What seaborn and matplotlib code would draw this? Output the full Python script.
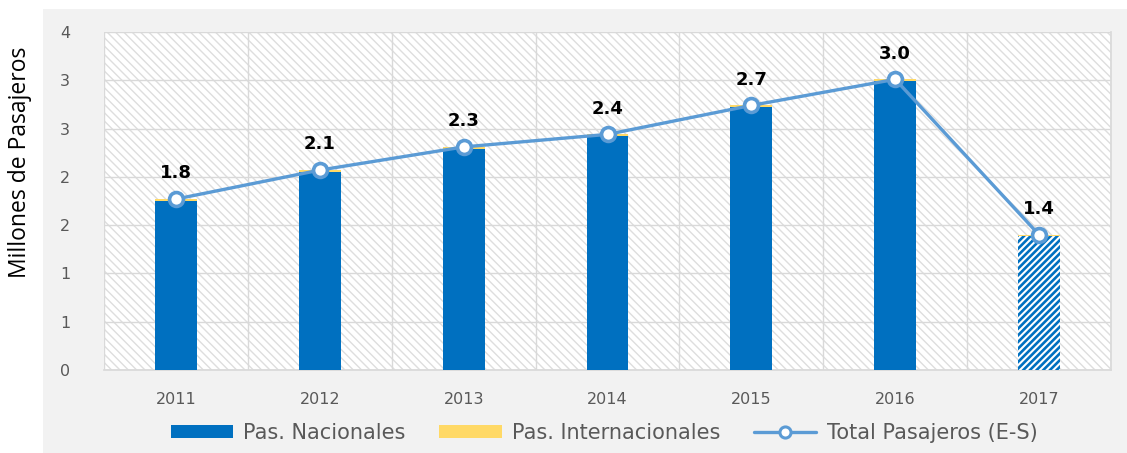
import matplotlib
matplotlib.use("Agg")
import matplotlib.pyplot as plt
import seaborn as sns
import numpy as np
import pandas as pd
from matplotlib.patches import Rectangle, Patch
from matplotlib.lines import Line2D

years = ["2011", "2012", "2013", "2014", "2015", "2016", "2017"]
nacionales = [1.75, 2.05, 2.29, 2.42, 2.72, 2.99, 1.39]
internacionales = [0.02, 0.02, 0.02, 0.02, 0.02, 0.02, 0.01]
total = [1.77, 2.07, 2.31, 2.44, 2.74, 3.01, 1.40]
total_labels = ["1.8", "2.1", "2.3", "2.4", "2.7", "3.0", "1.4"]
y_ticks = [0, 0.5, 1.0, 1.5, 2.0, 2.5, 3.0, 3.5]
y_tick_labels = ["0", "1", "1", "2", "2", "3", "3", "4"]

sns.set_theme(style="white")
plt.rcParams["font.family"] = ["DejaVu Sans"]
plt.rcParams["hatch.linewidth"] = 1.0

BLUE = "#0070C0"
YELLOW = "#FFD966"
LINE = "#5B9BD5"
GRID = "#D9D9D9"
TXT = "#595959"
PANEL = "#F2F2F2"

fig = plt.figure(figsize=(11.27, 4.53), dpi=100, facecolor="white")
fig.patches.append(Rectangle((43 / 1127, 0), 1 - 43 / 1127, 1 - 9 / 453,
                             transform=fig.transFigure, facecolor=PANEL,
                             edgecolor="none", zorder=-10))

ax = fig.add_axes([104 / 1127, 1 - 370 / 453, (1111 - 104) / 1127, (370 - 32) / 453])
ax.set_facecolor("none")
ax.add_patch(Rectangle((0, 0), 1, 1, transform=ax.transAxes, facecolor="white",
                       edgecolor="#DEDEDE", hatch="\\\\\\\\", linewidth=0, zorder=0))

df = pd.DataFrame({"year": years, "nac": nacionales, "intl": internacionales, "total": total})
x = np.arange(len(years))

plt.rcParams["hatch.linewidth"] = 1.9
sns.barplot(data=df, x="year", y="nac", color=BLUE, width=0.29, ax=ax,
            saturation=1, zorder=3, linewidth=0)
ax.bar(x, df["intl"], bottom=df["nac"], width=0.29, color=YELLOW, zorder=3, linewidth=0)

bar_patches = [p for p in ax.patches
               if isinstance(p, Rectangle) and tuple(p.get_facecolor()[:3]) == matplotlib.colors.to_rgb(BLUE)]
lp = bar_patches[-1]
lp.set_facecolor("white")
lp.set_edgecolor(BLUE)
lp.set_hatch("/////")
lp.set_linewidth(0)
if hasattr(lp, "set_hatch_linewidth"):
    lp.set_hatch_linewidth(1.9)

sns.lineplot(x=x, y=df["total"], ax=ax, color=LINE, linewidth=2.4, marker="o",
             markersize=10, markerfacecolor="white", markeredgecolor=LINE,
             markeredgewidth=2.6, zorder=5)

for xi, yi, lab in zip(x, total, total_labels):
    ax.annotate(lab, (xi, yi), xytext=(0, 12), textcoords="offset points",
                ha="center", va="bottom", fontsize=13, fontweight="bold", color="black")

ax.set_xlim(-0.5, 6.5)
ax.set_ylim(0, 3.5)
ax.set_yticks(y_ticks)
ax.set_yticklabels(y_tick_labels)
ax.set_xticks(x)
ax.set_xticklabels(years)
ax.set_xticks(np.arange(-0.5, 7, 1), minor=True)
ax.tick_params(axis="x", which="major", length=0, pad=16, labelsize=11.5, labelcolor=TXT)
ax.tick_params(axis="x", which="minor", length=6, color=GRID, width=1, direction="out")
ax.tick_params(axis="y", length=0, pad=28, labelsize=11.5, labelcolor=TXT)
for lbl in ax.get_yticklabels():
    lbl.set_horizontalalignment("center")
ax.grid(True, axis="y", color=GRID, linewidth=1, zorder=1)
ax.grid(True, axis="x", which="minor", color=GRID, linewidth=1, zorder=1)
ax.set_axisbelow(True)
for s in ax.spines.values():
    s.set_visible(False)
ax.spines["bottom"].set_visible(True)
ax.spines["bottom"].set_color(GRID)
ax.spines["right"].set_visible(True)
ax.spines["right"].set_color(GRID)
ax.set_xlabel("")
ax.set_ylabel("")

fig.text(20 / 1127, 1 - 162 / 453, "Millones de Pasajeros", rotation=90,
         ha="center", va="center", fontsize=16.5, color="black", family="Open Sans")

handles = [Patch(facecolor=BLUE, edgecolor="none"),
           Patch(facecolor=YELLOW, edgecolor="none"),
           Line2D([0], [0], color=LINE, linewidth=2.4, marker="o", markersize=8,
                  markerfacecolor="white", markeredgecolor=LINE, markeredgewidth=2.2)]
labels = ["Pas. Nacionales", "Pas. Internacionales", "Total Pasajeros (E-S)"]
leg = fig.legend(handles, labels, loc="center", bbox_to_anchor=(604 / 1127, 1 - 433 / 453),
                 ncol=3, frameon=False, fontsize=15, handlelength=3.0, handleheight=0.55,
                 columnspacing=1.6, handletextpad=0.5)
for t in leg.get_texts():
    t.set_color(TXT)

fig.savefig("out.png", dpi=100, facecolor="white")
